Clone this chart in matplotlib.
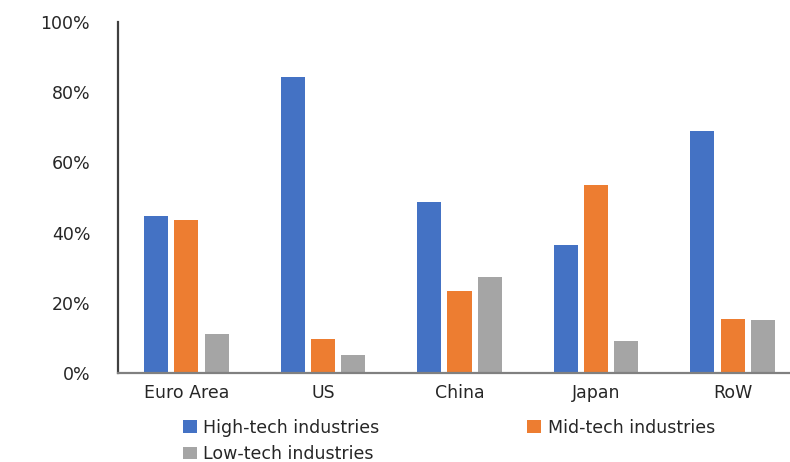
import matplotlib
matplotlib.use("Agg")
import matplotlib.pyplot as plt
import numpy as np
from matplotlib.patches import Patch
from matplotlib.ticker import FuncFormatter

categories = ["Euro Area", "US", "China", "Japan", "RoW"]
high_tech = [44.7, 84.4, 48.6, 36.5, 68.9]
mid_tech = [43.5, 9.6, 23.4, 53.5, 15.4]
low_tech = [11.1, 5.2, 27.3, 9.2, 15.0]
series_names = ["High-tech industries", "Mid-tech industries", "Low-tech industries"]
colors = ["#4472C4", "#ED7D31", "#A5A5A5"]

plt.rcParams["font.family"] = ["DejaVu Sans"]
text_color = "#262626"

fig = plt.figure(figsize=(7.9, 4.62), dpi=100)
ax = fig.add_axes([118 / 790, 89 / 462, 683 / 790, 351 / 462])

x = np.arange(len(categories))
width = 0.176
step = 0.222
for i, (vals, name, col) in enumerate(zip([high_tech, mid_tech, low_tech], series_names, colors)):
    ax.bar(x + (i - 1) * step, vals, width=width, color=col, label=name, zorder=2)

ax.set_xlim(-0.5, len(categories) - 0.5)
ax.set_ylim(0, 100)
ax.set_yticks(np.arange(0, 101, 20))
ax.yaxis.set_major_formatter(FuncFormatter(lambda v, p: f"{int(v)}%"))
ax.set_xticks(x)
ax.set_xticklabels(categories)

ax.tick_params(axis="y", length=0, pad=20, labelsize=12.5, labelcolor=text_color)
ax.tick_params(axis="x", length=0, pad=8, labelsize=12.5, labelcolor=text_color)

for side in ["top", "right"]:
    ax.spines[side].set_visible(False)
ax.spines["left"].set_color("#404040")
ax.spines["left"].set_linewidth(1.6)
ax.spines["bottom"].set_color("#808080")
ax.spines["bottom"].set_linewidth(1.6)

# legend fills column-first: order entries so rows read High, Mid / Low
handles = [Patch(facecolor=c, edgecolor="none") for c in colors]
order = [0, 2, 1]
fig.legend([handles[i] for i in order], [series_names[i] for i in order],
           loc="upper left", bbox_to_anchor=(167 / 790, 59 / 462),
           ncol=2, frameon=False, fontsize=12.5, labelcolor=text_color,
           handlelength=0.8, handleheight=0.7, handletextpad=0.4,
           columnspacing=8.5, labelspacing=0.5)

fig.savefig("out.png", dpi=100, facecolor="white")
